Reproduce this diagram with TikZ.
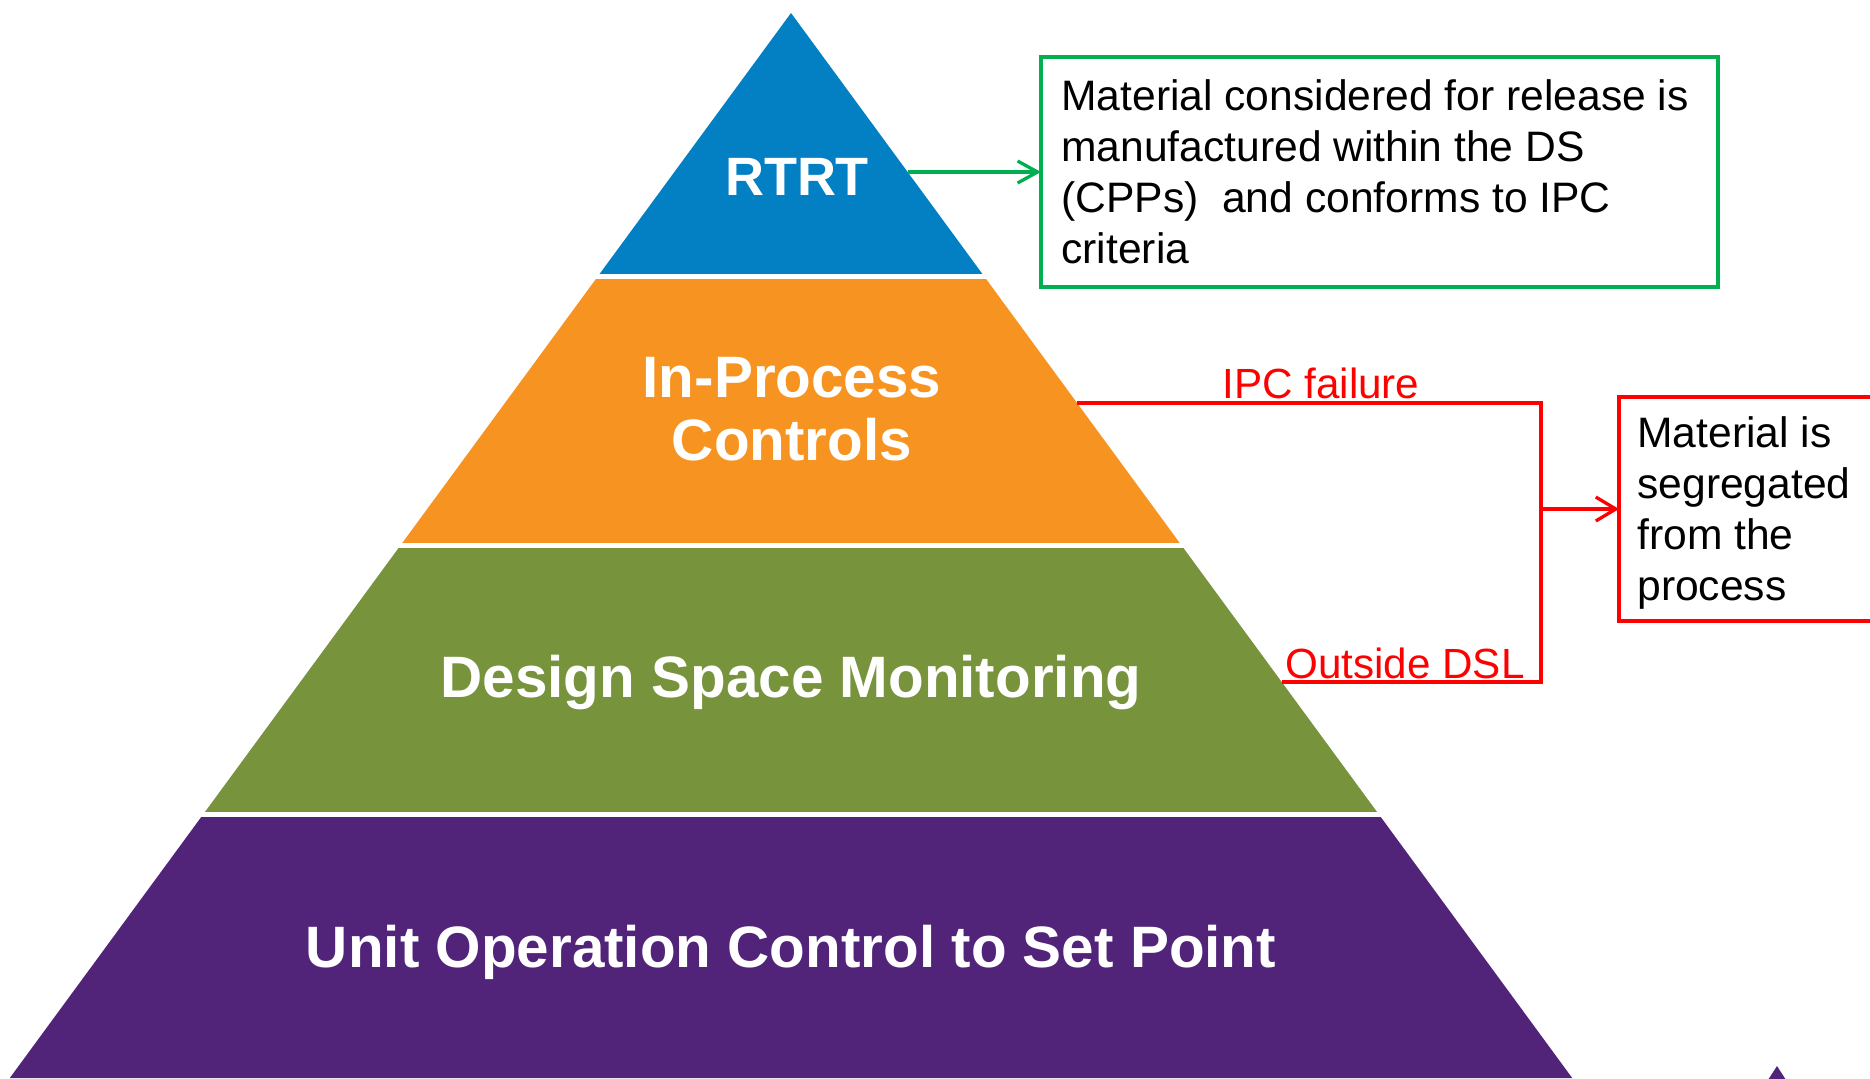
\documentclass[tikz,border=0pt]{standalone}
\usepackage{fontspec}
\setmainfont{Liberation Sans}
\usetikzlibrary{arrows.meta}

\definecolor{tierblue}{HTML}{0280C3}
\definecolor{tierorange}{HTML}{F79421}
\definecolor{tierolive}{HTML}{77933C}
\definecolor{tierpurple}{HTML}{522479}
\definecolor{linkgreen}{HTML}{00B050}
\definecolor{linkred}{HTML}{FF0000}

% multi-line nodes below are placed by the baseline of their last line
\tikzset{
  tierlabel/.style={text=white, font=\bfseries\fontsize{29.2}{31.5}\selectfont,
    align=center, inner sep=0pt, anchor=base},
  notetext/.style={text=black, font=\fontsize{21.3}{25.5}\selectfont,
    align=left, inner sep=0pt, anchor=base west},
  redlabel/.style={text=linkred, font=\fontsize{21.1}{25}\selectfont,
    inner sep=0pt, anchor=base west},
  notebox/.style={line width=2.4pt, inner sep=0pt, outer sep=0pt, anchor=north west},
  greenlink/.style={draw=linkgreen, line width=1.65pt,
    -{Straight Barb[length=10pt,width=11pt]}},
  redlink/.style={draw=linkred, line width=1.65pt},
  redarrow/.style={redlink, -{Straight Barb[length=10pt,width=12pt]}},
}

\begin{document}
\begin{tikzpicture}[x=0.5pt,y=-0.5pt]
\useasboundingbox (0,0) rectangle (1870,1078);

% pyramid: one triangle cut into four bands separated by white gaps
\foreach \ya/\yb/\col in {0/273/tierblue, 279/542/tierorange,
                          548/811/tierolive, 817/1078/tierpurple}{
  \begin{scope}
    \clip (0,\ya) rectangle (1870,\yb);
    \fill[\col] (791,13) -- (9.8,1078) -- (1572.2,1078) -- cycle;
  \end{scope}
}
% tip of the next pyramid in the corner
\fill[tierpurple] (1777,1066) -- (1786,1080) -- (1768,1080) -- cycle;

% tier labels
\node[tierlabel, font=\bfseries\fontsize{27}{30}\selectfont] (rtrt) at (797,195) {RTRT};
\node[tierlabel] (ipc) at (792,460) {In-Process\\Controls};
\node[tierlabel] (dsm) at (791,697) {Design Space Monitoring};
\node[tierlabel] (uoc) at (791,967) {Unit Operation Control to Set Point};

% outcome boxes
\node[notebox, draw=linkgreen, minimum width=338.5pt, minimum height=115pt] (relbox) at (1041,57) {};
\node[notetext] (reltext) at (1061,263) {Material considered for release is\\manufactured within the DS\\(CPPs)\ \ and conforms to IPC\\criteria};

\node[notebox, draw=linkred, minimum width=200pt, minimum height=112pt] (segbox) at (1619,397) {};
\node[notetext] (segtext) at (1637,600) {Material is\\segregated\\from the\\process};

% connector end points on the pyramid edge
\coordinate (rtrtedge) at (908,172);
\coordinate (ipcedge) at (1077,403);
\coordinate (dsledge) at (1282,682);
\coordinate (junction) at (1541,509);

% connectors
\draw[greenlink] (rtrtedge) -- (relbox.west);
\draw[redlink] (ipcedge) -| (junction);
\draw[redlink] (dsledge) -| (junction);
\draw[redarrow] (junction) -- (segbox.west);

% connector labels
\node[redlabel] (ipclabel) at (1222,398) {IPC failure};
\node[redlabel] (dsllabel) at (1285,678) {Outside DSL};
\end{tikzpicture}
\end{document}
